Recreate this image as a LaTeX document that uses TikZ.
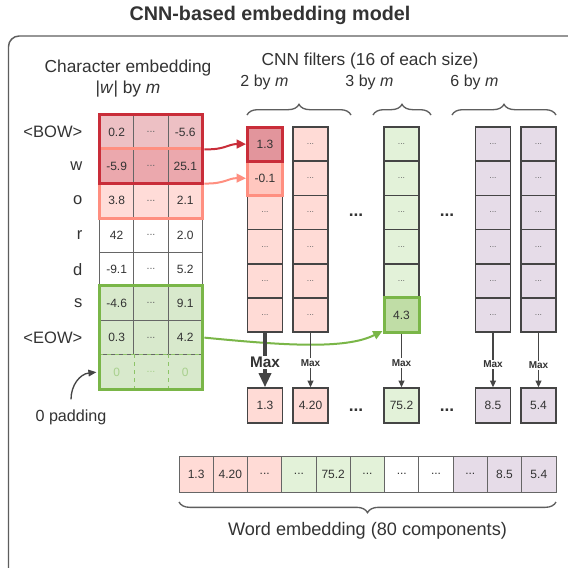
\documentclass[tikz,border=0pt]{standalone}
\usepackage{fontspec}
\setmainfont{Liberation Sans}
\usetikzlibrary{arrows.meta,decorations.pathreplacing,fit}
\definecolor{txt}{HTML}{333333}
\definecolor{framec}{HTML}{5E5E5E}
\definecolor{grid}{HTML}{666666}
\definecolor{fline}{HTML}{454545}
\definecolor{redc}{HTML}{C92D39}
\definecolor{salc}{HTML}{FF8F80}
\definecolor{grc}{HTML}{7AB648}
\definecolor{bowf}{HTML}{EDC0C4}
\definecolor{wf}{HTML}{EBA8AD}
\definecolor{of}{HTML}{FFDCD8}
\definecolor{pinkf}{HTML}{FFDBD6}
\definecolor{grf}{HTML}{D8E9CC}
\definecolor{grf2}{HTML}{E3F2D9}
\definecolor{grsel}{HTML}{C0DDA6}
\definecolor{lavf}{HTML}{E6DCE8}
\definecolor{redsel}{HTML}{E2959C}
\definecolor{salsel}{HTML}{FFC7BF}
\definecolor{padtxt}{HTML}{A8D08D}
\definecolor{padline}{HTML}{8DC468}
\definecolor{dotc}{HTML}{666666}
\newcommand\mydots{...}
\begin{document}
\begin{tikzpicture}[x=0.75pt,y=-0.75pt,
  every node/.style={text=txt},
  cell/.style={draw=grid, line width=0.7pt, minimum width=25.75pt, minimum height=25.7pt, inner sep=0pt, font=\fontsize{9}{10}\selectfont},
  mdots/.style={font=\fontsize{8}{9}\selectfont, text=dotc},
  fcell/.style={draw=fline, line width=1.2pt, minimum width=26.25pt, minimum height=25.6pt, inner sep=0pt, font=\fontsize{9}{10}\selectfont},
  fdots/.style={font=\fontsize{6.5}{7}\selectfont, text=dotc},
  selbox/.style={line width=2.25pt, inner sep=0pt},
  lbl/.style={font=\fontsize{13}{15}\selectfont},
  sublbl/.style={font=\fontsize{12}{14}\selectfont},
  rowlab/.style={font=\fontsize{12.4}{14}\selectfont, anchor=east},
  bigdots/.style={font=\bfseries\fontsize{13}{14}\selectfont},
  bracestyle/.style={draw=framec, line width=1pt, decorate, decoration={brace, amplitude=8pt}},
  maxbig/.style={draw=fline, line width=2.4pt, -{Triangle[length=10.5pt,width=9pt]}},
  maxsmall/.style={draw=fline, line width=0.9pt, -{Triangle[length=5pt,width=4.5pt]}},
  maxlblbig/.style={fill=white, inner sep=1pt, font=\bfseries\fontsize{11.5}{12}\selectfont},
  maxlblsmall/.style={fill=white, inner sep=1pt, font=\bfseries\fontsize{7.5}{8}\selectfont},
  feed/.style={line width=1.5pt, -{Triangle[length=7pt,width=6.5pt]}}
]
\useasboundingbox (0,0) rectangle (568,568);
\clip (0,0) rectangle (568,568);
\fill[white] (0,0) rectangle (568,568);
\draw[framec, line width=1.1pt, rounded corners=8pt] (8.5,36) rectangle (590,590);

% titles
\node[font=\bfseries\fontsize{14.8}{16}\selectfont] (title) at (270,15) {CNN-based embedding model};
\node[lbl] (ce) at (128,68) {Character embedding};
\node[lbl] (ce2) at (128,89) {|\textit{w}| by \textit{m}};
\node[lbl] (cnn) at (370,61) {CNN filters (16 of each size)};
\node[sublbl] (s2) at (264.5,82) {2 by \textit{m}};
\node[sublbl] (s3) at (369.5,82) {3 by \textit{m}};
\node[sublbl] (s6) at (474.5,82) {6 by \textit{m}};

% character embedding matrix
\foreach \r/\a/\b/\f in {0/0.2/-5.6/bowf,1/-5.9/25.1/wf,2/3.8/2.1/of,3/42/2.0/white,4/-9.1/5.2/white,5/-4.6/9.1/grf,6/0.3/4.2/grf}{
  \node[cell,fill=\f] (m-\r-0) at ({99.5+34.33*0.5},{115+34.25*(\r+0.5)}) {\a};
  \node[cell,fill=\f,mdots] (m-\r-1) at ({99.5+34.33*1.5},{115+34.25*(\r+0.5)}) {\mydots};
  \node[cell,fill=\f] (m-\r-2) at ({99.5+34.33*2.5},{115+34.25*(\r+0.5)}) {\b};
}
\node[cell,draw=none,fill=grf,text=padtxt] (m-7-0) at ({99.5+34.33*0.5},{115+34.25*7.5}) {0};
\node[cell,draw=none,fill=grf,mdots,text=padtxt] (m-7-1) at ({99.5+34.33*1.5},{115+34.25*7.5}) {\mydots};
\node[cell,draw=none,fill=grf,text=padtxt] (m-7-2) at ({99.5+34.33*2.5},{115+34.25*7.5}) {0};
\draw[padline, dashed, line width=1.1pt] (m-7-0.north west) -- (m-7-2.north east);
\draw[padline, dashed, line width=1.1pt] (m-7-0.north east) -- (m-7-0.south east);
\draw[padline, dashed, line width=1.1pt] (m-7-1.north east) -- (m-7-1.south east);

\foreach \r/\t in {0/{\textless BOW\textgreater},1/w,2/o,3/r,4/d,5/s,6/{\textless EOW\textgreater}}{
  \node[rowlab] (lab-\r) at (87,{115+34.25*(\r+0.5)}) {\t};
}

\node[fit=(m-1-0)(m-2-2), selbox, draw=salc] (salbox) {};
\node[fit=(m-0-0)(m-1-2), selbox, draw=redc] (redbox) {};
\node[fit=(m-5-0)(m-7-2), selbox, draw=grc] (grbox) {};

% filters
\foreach \k/\x/\f in {b/310.5/pinkf, d/493/lavf, e/538.5/lavf}{
  \foreach \r in {0,...,5}{
    \node[fcell,fill=\f,fdots] (\k-\r) at (\x,{127+34.17*(\r+0.5)}) {\mydots};
  }
}
\foreach \r in {2,...,5}{
  \node[fcell,fill=pinkf,fdots] (a-\r) at (265,{127+34.17*(\r+0.5)}) {\mydots};
}
\foreach \r in {0,...,4}{
  \node[fcell,fill=grf2,fdots] (c-\r) at (401.5,{127+34.17*(\r+0.5)}) {\mydots};
}
\node[fcell,fill=salsel,draw=salc,line width=2.25pt] (a-1) at (265,{127+34.17*1.5}) {-0.1};
\node[fcell,fill=redsel,draw=redc,line width=2.25pt] (a-0) at (265,{127+34.17*0.5}) {1.3};
\node[fcell,fill=grsel,draw=grc,line width=2.25pt] (c-5) at (401.5,{127+34.17*5.5}) {4.3};

\node[bigdots] (dt1) at (356,215) {...};
\node[bigdots] (dt2) at (447,215) {...};

% braces
\draw[bracestyle] (247,115) -- (351,115);
\draw[bracestyle] (373,115) -- (431,115);
\draw[bracestyle] (452,115) -- (556,115);

% pooled outputs
\node[fcell,fill=pinkf,minimum height=26.25pt] (o-a) at (265,405.5) {1.3};
\node[fcell,fill=pinkf,minimum height=26.25pt] (o-b) at (310.5,405.5) {4.20};
\node[fcell,fill=grf2,minimum height=26.25pt] (o-c) at (401.5,405.5) {75.2};
\node[fcell,fill=lavf,minimum height=26.25pt] (o-d) at (493,405.5) {8.5};
\node[fcell,fill=lavf,minimum height=26.25pt] (o-e) at (538.5,405.5) {5.4};
\node[bigdots] (dt3) at (356,410) {...};
\node[bigdots] (dt4) at (447,410) {...};

% feeding arrows
\draw[feed, salc] (salbox.east) .. controls (225,184) and (228,178) .. (a-1.west);
\draw[feed, redc] (redbox.east) .. controls (225,150) and (228,144) .. (a-0.west);
\draw[feed, grc] (grbox.east) .. controls (280,345) and (345,350) .. ([yshift=-12pt]c-5.west);

% max pooling
\draw[maxbig] (a-5) -- node[pos=0.55, maxlblbig] (mx-a) {Max} (o-a);
\draw[maxsmall] (b-5) -- node[pos=0.55, maxlblsmall] (mx-b) {Max} (o-b);
\draw[maxsmall] (c-5) -- node[pos=0.55, maxlblsmall] (mx-c) {Max} (o-c);
\draw[maxsmall] (d-5) -- node[pos=0.58, maxlblsmall] (mx-d) {Max} (o-d);
\draw[maxsmall] (e-5) -- node[pos=0.6, maxlblsmall] (mx-e) {Max} (o-e);

% padding label
\node[font=\fontsize{12.1}{14}\selectfont] (padlab) at (71,417) {0 padding};
\draw[fline, line width=1pt, shorten <=4pt, shorten >=2pt, -{Triangle[length=6pt,width=5pt]}] (padlab.north) .. controls (71,385) and (80,374) .. (m-7-0.west);

% word embedding
\foreach \i/\t/\f in {0/1.3/pinkf,1/4.20/pinkf,2/\mydots/pinkf,3/\mydots/grf2,4/75.2/grf2,5/\mydots/grf2,6/\mydots/white,7/\mydots/white,8/\mydots/lavf,9/8.5/lavf,10/5.4/lavf}{
  \node[cell,fill=\f,minimum height=27pt] (we-\i) at ({179+34.27*(\i+0.5)},474) {\t};
}
\draw[bracestyle] (556,502) -- (179,502);
\node[font=\fontsize{13.6}{15}\selectfont] (wel) at (367.5,531) {Word embedding (80 components)};
\end{tikzpicture}
\end{document}
